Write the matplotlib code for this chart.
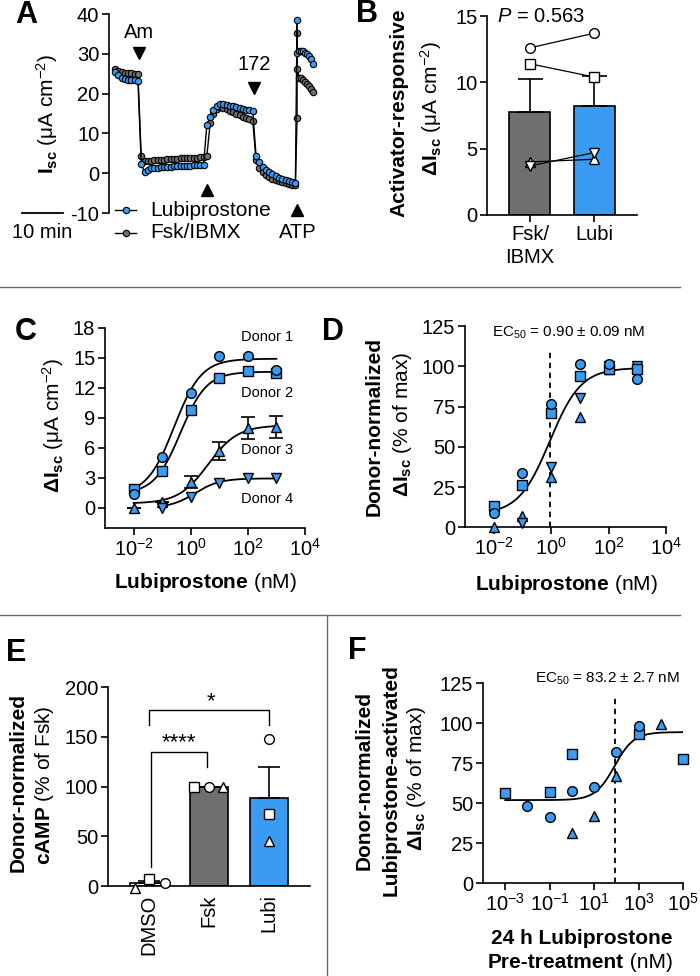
import numpy as np
import matplotlib
matplotlib.use('Agg')
import matplotlib.pyplot as plt
from matplotlib.ticker import FixedLocator, NullLocator, LogFormatterSciNotation

plt.rcParams['font.family'] = ['Liberation Sans', 'DejaVu Sans']
plt.rcParams['mathtext.fontset'] = 'custom'
plt.rcParams['mathtext.rm'] = 'Liberation Sans'
plt.rcParams['mathtext.it'] = 'Liberation Sans:italic'
plt.rcParams['mathtext.bf'] = 'Liberation Sans:bold'
plt.rcParams['mathtext.default'] = 'regular'
plt.rcParams['axes.unicode_minus'] = False

# ---------------------- Data ---------------------- #
# Panel A: Isc trace (uA/cm2), sampled every SAMPLE_MIN minutes per segment
SAMPLE_MIN = 0.8
seg_start = [0.0, 6.4, 22.4, 34.4]
lubi_baseline = [25.5, 24.6, 24.0, 23.7, 23.5, 23.4, 23.3, 23.2]
lubi_amil = [2.3, 0.3, 0.8, 1.2, 1.3, 1.4, 1.5, 1.5, 1.6, 1.6,
             1.7, 1.7, 1.8, 1.8, 1.9, 1.9, 2.0, 2.0, 2.0, 2.1]
lubi_activ = [12.1, 14.0, 15.8, 16.9, 17.4, 17.3, 17.2, 17.0, 16.8, 16.6,
              16.4, 16.2, 16.0, 15.9, 15.7]
lubi_inh172 = [4.3, 2.8, 1.6, 0.8, 0.2, -0.3, -0.7, -1.1, -1.4, -1.7, -2.0, -2.3, -2.5]
lubi_atp_t = [44.4, 44.45, 44.9, 45.4, 45.9, 46.4, 46.9, 47.4, 47.9, 48.4]
lubi_atp = [38.5, 30.1, 30.6, 30.8, 30.6, 30.3, 30.0, 29.5, 28.8, 27.5]

fsk_baseline = [26.2, 25.8, 25.5, 25.3, 25.2, 25.1, 25.0, 24.9]
fsk_amil = [4.3, 3.0, 3.0, 3.1, 3.2, 3.3, 3.3, 3.4, 3.5, 3.5,
            3.6, 3.6, 3.7, 3.7, 3.8, 3.8, 3.9, 3.9, 4.0, 4.1]
fsk_activ = [4.2, 12.5, 15.0, 16.2, 16.7, 16.5, 16.1, 15.7, 15.3, 14.9,
             14.5, 14.1, 13.8, 13.5, 13.2]
fsk_inh172 = [3.2, 1.2, 0.2, -0.5, -1.0, -1.4, -1.7, -2.0, -2.3, -2.5, -2.7, -2.9, -3.0]
fsk_atp_t = [44.4, 44.42, 44.45, 44.9, 45.4, 45.9, 46.4, 46.9, 47.4, 47.9, 48.4]
fsk_atp = [13.8, 35.3, 26.3, 24.0, 23.8, 23.3, 22.8, 22.3, 21.8, 21.2, 20.5]

addition_names = ['Am', '', '172', 'ATP']
addition_times = [5.8, 22.4, 33.9, 44.4]

# Panel B: activator-responsive dIsc
groups_b = ['Fsk/\nIBMX', 'Lubi']
b_mean = [7.8, 8.2]
b_sem = [2.45, 2.3]
b_donors = [[12.6, 13.7], [11.4, 10.4], [4.0, 4.2], [3.7, 4.7]]

# Panel C: dose response per donor
conc_c = [0.01, 0.1, 1, 10, 100, 1000]
donor1_c = [1.4, 5.1, 11.5, 15.2, 15.2, 13.8]
donor2_c = [1.9, 3.7, 9.8, 13.0, 13.7, 13.5]
donor3_c = [0.0, 0.6, 2.6, 5.7, 8.0, 8.1]
donor3_err = [0.0, 0.0, 0.6, 0.9, 1.1, 1.1]
conc_c4 = [0.1, 1, 10, 100, 1000]
donor4_c = [0.0, 1.1, 2.5, 3.0, 3.0]
# fit params: bottom, top, logEC50, hill
fits_c = [(1.3, 14.9, -0.58, 0.91), (1.4, 13.6, -0.36, 0.95),
          (0.45, 8.25, 0.61, 0.84), (0.0, 2.95, 0.15, 1.0)]

# Panel D: donor-normalized
conc_d = [0.01, 0.1, 1, 10, 100, 1000]
donor1_d = [9.1, 33.9, 76.4, 101.4, 101.4, 91.9]
donor2_d = [13.2, 26.3, 71.2, 94.0, 98.1, 98.1]
donor3_d = [0.0, 7.0, 31.4, 68.7, 98.0, 99.5]
conc_d4 = [0.1, 1, 10, 100, 1000]
donor4_d = [2.9, 37.7, 80.1, 100.0, 100.0]
fit_d = (8.0, 99.0, np.log10(0.90), 0.8)
ec50_d = 0.90

# Panel E: cAMP
groups_e = ['DMSO', 'Fsk', 'Lubi']
camp_mean = [3.0, 100.0, 89.0]
camp_sem = [2.0, 0.0, 31.0]
camp_dmso = [3.4, 7.0, -2.3]     # circle, square, triangle
camp_fsk = [100.0, 100.0, 100.0]
camp_lubi = [148.0, 72.0, 45.0]

# Panel F: 24 h pre-treatment
conc_f1 = [0.01, 0.1, 1, 10, 100, 1000]
donor1_f = [48.5, 41.6, 57.9, 60.0, 82.3, 98.3]
conc_f2 = [0.001, 0.1, 1, 1000, 100000]
donor2_f = [56.3, 56.9, 80.6, 93.3, 77.7]
conc_f3 = [1, 10, 100, 10000]
donor3_f = [31.6, 42.0, 67.0, 99.6]
fit_f = (52.0, 94.5, np.log10(83.2), 1.0)
ec50_f = 83.2

# ---------------------- Styling ---------------------- #
BLUE = '#3A9BF2'
GRAY = '#6F6F6F'
TICK_FS = 14.5
LAB_FS = 15
W, H = 700, 976

fig = plt.figure(figsize=(W / 100, H / 100), dpi=100)

overlay = fig.add_axes([0, 0, 1, 1], zorder=-1)
overlay.set_xlim(0, W)
overlay.set_ylim(H, 0)
overlay.axis('off')


def px_axes(left, top, right, bottom):
    return fig.add_axes([left / W, 1 - bottom / H, (right - left) / W, (bottom - top) / H])


def style(ax):
    for s in ['top', 'right']:
        ax.spines[s].set_visible(False)
    for s in ['left', 'bottom']:
        ax.spines[s].set_linewidth(1.2)
    ax.tick_params(direction='out', length=5, width=1.2, labelsize=TICK_FS, pad=2)


def logistic(x, bottom, top, log_ec50, hill):
    return bottom + (top - bottom) / (1 + 10 ** ((log_ec50 - np.log10(x)) * hill))


def log_axis(ax, ticks):
    ax.set_xscale('log')
    ax.xaxis.set_major_locator(FixedLocator(ticks))
    ax.xaxis.set_major_formatter(LogFormatterSciNotation(labelOnlyBase=False))
    ax.xaxis.set_minor_locator(NullLocator())


mk = dict(mec='black', mew=1.0, ms=7, ls='none', clip_on=False, zorder=3)
donor_markers = ['o', 's', '^', 'v']

# ---------------------- Panel A ---------------------- #
ax_a = px_axes(109, 14, 320, 213)
style(ax_a)
ax_a.spines['bottom'].set_visible(False)
ax_a.set_xticks([])
ax_a.set_xlim(-1.46, 50)
ax_a.set_ylim(-10, 40)
ax_a.set_yticks([-10, 0, 10, 20, 30, 40])


def build_trace(segments, atp_t, atp_v):
    t, v = [], []
    for start, vals in zip(seg_start, segments):
        t.extend(start + SAMPLE_MIN * np.arange(len(vals)))
        v.extend(vals)
    return np.array(t + list(atp_t)), np.array(v + list(atp_v))


t_f, v_f = build_trace([fsk_baseline, fsk_amil, fsk_activ, fsk_inh172], fsk_atp_t, fsk_atp)
t_l, v_l = build_trace([lubi_baseline, lubi_amil, lubi_activ, lubi_inh172], lubi_atp_t, lubi_atp)
ax_a.plot(t_f, v_f, color='black', lw=1.0, marker='o', ms=4.6, mfc=GRAY, mec='black', mew=0.8, zorder=2)
ax_a.plot(t_l, v_l, color='black', lw=1.0, marker='o', ms=4.6, mfc=BLUE, mec='black', mew=0.8, zorder=3)

# additions
ax_a.plot(addition_times[0], 30.2, marker='v', color='black', ms=8, clip_on=False)
ax_a.text(addition_times[0], 35.4, addition_names[0], ha='center', va='center', fontsize=TICK_FS)
ax_a.plot(addition_times[1], -4.3, marker='^', color='black', ms=8, clip_on=False)
ax_a.plot(addition_times[2], 21.4, marker='v', color='black', ms=8, clip_on=False)
ax_a.text(addition_times[2], 27.2, addition_names[2], ha='center', va='center', fontsize=TICK_FS)
ax_a.plot(addition_times[3], -9.2, marker='^', color='black', ms=8, clip_on=False)
ax_a.text(addition_times[3] + 0.2, -14.9, addition_names[3], ha='center', va='center', fontsize=TICK_FS)

# scale bar (10 min)
ax_a.plot([-22.7, -12.7], [-10, -10], color='black', lw=1.3, clip_on=False)
ax_a.text(-17.7, -14.9, '10 min', ha='center', va='center', fontsize=TICK_FS)

# legend
for yy, fc, name in [(-9.3, BLUE, 'Lubiprostone'), (-14.9, GRAY, 'Fsk/IBMX')]:
    ax_a.plot([0.0, 5.2], [yy, yy], color='black', lw=1.0, clip_on=False)
    ax_a.plot(2.6, yy, marker='o', ms=4.6, mfc=fc, mec='black', mew=0.8, clip_on=False)
    ax_a.text(8.5, yy, name, ha='left', va='center', fontsize=LAB_FS)

# ---------------------- Panel B ---------------------- #
ax_b = px_axes(487, 16, 637, 215)
style(ax_b)
xb = np.arange(len(groups_b))
ax_b.bar(xb, b_mean, width=0.64, color=[GRAY, BLUE], edgecolor='black', linewidth=1.2, zorder=1)
ax_b.errorbar(xb, b_mean, yerr=[[0, 0], b_sem], fmt='none', ecolor='black',
              elinewidth=1.2, capsize=9, capthick=1.2, zorder=2)
for vals, m in zip(b_donors, donor_markers):
    ax_b.plot(xb, vals, color='black', lw=0.9, marker=m, mfc='white', mec='black',
              mew=1.0, ms=7, zorder=3, clip_on=False)
ax_b.set_xlim(-0.67, 1.67)
ax_b.set_ylim(0, 15)
ax_b.set_yticks([0, 5, 10, 15])
ax_b.set_xticks(xb)
ax_b.set_xticklabels(groups_b, fontsize=TICK_FS, linespacing=1.3)
ax_b.text(-0.52, 15, r'$\it{P}$ = 0.563', ha='left', va='center', fontsize=TICK_FS)

# ---------------------- Panel C ---------------------- #
ax_c = px_axes(105, 327.7, 305, 528)
style(ax_c)
log_axis(ax_c, [1e-2, 1e0, 1e2, 1e4])
ax_c.set_xlim(1e-3, 1e4)
ax_c.set_ylim(-2, 18)
ax_c.set_yticks(np.arange(0, 19, 3))
xs = np.logspace(-2, 3, 200)
xs4 = np.logspace(-1, 3, 200)
for (b, t, le, h), xx in zip(fits_c, [xs, xs, xs, xs4]):
    ax_c.plot(xx, logistic(xx, b, t, le, h), color='black', lw=1.3, zorder=2)
ax_c.errorbar(conc_c, donor3_c, yerr=donor3_err, fmt='none', ecolor='black',
              elinewidth=1.2, capsize=5, capthick=1.2, zorder=2)
ax_c.plot(conc_c, donor3_c, marker='^', mfc=BLUE, **mk)
ax_c.plot(conc_c4, donor4_c, marker='v', mfc=BLUE, **mk)
ax_c.plot(conc_c, donor2_c, marker='s', mfc=BLUE, **mk)
ax_c.plot(conc_c, donor1_c, marker='o', mfc=BLUE, **mk)
for i, yy in enumerate([17.1, 11.5, 5.8, 0.9]):
    ax_c.text(468, yy, f'Donor {i + 1}', ha='center', va='center', fontsize=10.5)

# ---------------------- Panel D ---------------------- #
ax_d = px_axes(465, 326, 666, 527.3)
style(ax_d)
log_axis(ax_d, [1e-2, 1e0, 1e2, 1e4])
ax_d.set_xlim(1e-3, 1e4)
ax_d.set_ylim(0, 125)
ax_d.set_yticks(np.arange(0, 126, 25))
ax_d.plot(xs, logistic(xs, *fit_d), color='black', lw=1.3, zorder=2)
ax_d.plot([ec50_d, ec50_d], [0, 111], color='black', lw=1.3, ls=(0, (3, 2.5)), zorder=1)
ax_d.plot(conc_d, donor3_d, marker='^', mfc=BLUE, **mk)
ax_d.plot(conc_d4, donor4_d, marker='v', mfc=BLUE, **mk)
ax_d.plot(conc_d, donor2_d, marker='s', mfc=BLUE, **mk)
ax_d.plot(conc_d, donor1_d, marker='o', mfc=BLUE, **mk)
ax_d.text(10 ** 0.6, 121, r'EC$_{50}$ = 0.90 ± 0.09 nM', ha='center', va='center', fontsize=11)

# ---------------------- Panel E ---------------------- #
ax_e = px_axes(108, 687.3, 310, 886)
style(ax_e)
xe = np.arange(len(groups_e))
ax_e.bar(xe, camp_mean, width=0.63, color=['white', GRAY, BLUE], edgecolor='black',
         linewidth=1.2, zorder=1)
ax_e.errorbar(xe, camp_mean, yerr=[[0, 0, 0], camp_sem], fmt='none', ecolor='black',
              elinewidth=1.2, capsize=8, capthick=1.2, zorder=2)
open_mk = dict(mfc='white', mec='black', mew=1.0, ms=7, ls='none', clip_on=False, zorder=3)
jitter = [0.27, 0.0, -0.23]   # circle, square, triangle
fsk_jitter = [0.0, -0.25, 0.23]
for j, m in enumerate(['o', 's', '^']):
    ax_e.plot(xe[0] + jitter[j], camp_dmso[j], marker=m, **open_mk)
    ax_e.plot(xe[1] + fsk_jitter[j], camp_fsk[j], marker=m, **open_mk)
    ax_e.plot(xe[2], camp_lubi[j], marker=m, **open_mk)
ax_e.set_xlim(-0.68, 2.68)
ax_e.set_ylim(0, 200)
ax_e.set_yticks([0, 50, 100, 150, 200])
ax_e.set_xticks(xe)
ax_e.set_xticklabels(groups_e, rotation=90, fontsize=TICK_FS)
ax_e.tick_params(axis='x', length=0, pad=6)
# significance brackets
ax_e.plot([0.03, 0.03, 0.97, 0.97], [19, 135, 135, 120], color='black', lw=1.0)
ax_e.text(0.5, 144, '****', ha='center', va='center', fontsize=16)
ax_e.plot([0, 0, 2, 2], [162, 177, 177, 162], color='black', lw=1.0)
ax_e.text(1.03, 186, '*', ha='center', va='center', fontsize=16)

# ---------------------- Panel F ---------------------- #
ax_f = px_axes(483, 683.3, 683, 883.3)
style(ax_f)
log_axis(ax_f, [1e-3, 1e-1, 1e1, 1e3, 1e5])
ax_f.set_xlim(1e-4, 1e5)
ax_f.set_ylim(0, 125)
ax_f.set_yticks(np.arange(0, 126, 25))
xf = np.logspace(-3, 5, 200)
ax_f.plot(xf, logistic(xf, *fit_f), color='black', lw=1.3, zorder=2)
ax_f.plot([ec50_f, ec50_f], [0, 117], color='black', lw=1.3, ls=(0, (3, 2.5)), zorder=1)
ax_f.plot(conc_f3, donor3_f, marker='^', mfc=BLUE, **mk)
ax_f.plot(conc_f2, donor2_f, marker='s', mfc=BLUE, **mk)
ax_f.plot(conc_f1, donor1_f, marker='o', mfc=BLUE, **mk)
ax_f.text(10 ** 1.59, 127.7, r'EC$_{50}$ = 83.2 ± 2.7 nM', ha='center', va='center', fontsize=11)

# ---------------------- Labels / layout ---------------------- #
for letter, x, y in [('A', 26, 15), ('B', 367, 14), ('C', 26, 332), ('D', 333, 332),
                     ('E', 16, 653), ('F', 357, 651)]:
    overlay.text(x, y, letter, fontsize=22, fontweight='bold', ha='center', va='center')

isc = r'$\mathbf{ΔI_{sc}}$'
overlay.text(47, 114, r'$\mathbf{I_{sc}}$ (μA cm$^{-2}$)', rotation=90, ha='center', va='center', fontsize=LAB_FS)
overlay.text(399, 113, 'Activator-responsive', rotation=90, ha='center', va='center',
             fontsize=LAB_FS, fontweight='bold')
overlay.text(431, 108, isc + r' (μA cm$^{-2}$)', rotation=90, ha='center', va='center', fontsize=LAB_FS)
overlay.text(53, 425, isc + r' (μA cm$^{-2}$)', rotation=90, ha='center', va='center', fontsize=LAB_FS)
overlay.text(374, 426, 'Donor-normalized', rotation=90, ha='center', va='center',
             fontsize=LAB_FS, fontweight='bold')
overlay.text(402, 424, isc + ' (% of max)', rotation=90, ha='center', va='center', fontsize=LAB_FS)
overlay.text(205, 583, r'$\mathbf{Lubiprostone}$ (nM)', ha='center', va='center', fontsize=LAB_FS)
overlay.text(566, 584, r'$\mathbf{Lubiprostone}$ (nM)', ha='center', va='center', fontsize=LAB_FS)
overlay.text(18, 783, 'Donor-normalized', rotation=90, ha='center', va='center',
             fontsize=LAB_FS, fontweight='bold')
overlay.text(45, 785, r'$\mathbf{cAMP}$ (% of Fsk)', rotation=90, ha='center', va='center', fontsize=LAB_FS)
overlay.text(364, 780, 'Donor-normalized', rotation=90, ha='center', va='center',
             fontsize=LAB_FS, fontweight='bold')
overlay.text(391, 780, 'Lubiprostone-activated', rotation=90, ha='center', va='center',
             fontsize=LAB_FS, fontweight='bold')
overlay.text(417, 778, isc + ' (% of max)', rotation=90, ha='center', va='center', fontsize=LAB_FS)
overlay.text(582, 938, '24 h Lubiprostone', ha='center', va='center', fontsize=LAB_FS, fontweight='bold')
pre = overlay.text(488, 963, 'Pre-treatment', ha='left', va='center', fontsize=LAB_FS, fontweight='bold')
overlay.annotate(' (nM)', xy=(1, 0), xycoords=pre, ha='left', va='bottom', fontsize=LAB_FS)

# panel dividers
line_c = '#6A6A6A'
overlay.plot([0, 680], [287, 287], color=line_c, lw=1.0)
overlay.plot([0, 680], [615, 615], color=line_c, lw=1.0)
overlay.plot([327, 327], [615, 976], color=line_c, lw=1.0)

fig.savefig('out.png', dpi=100)
